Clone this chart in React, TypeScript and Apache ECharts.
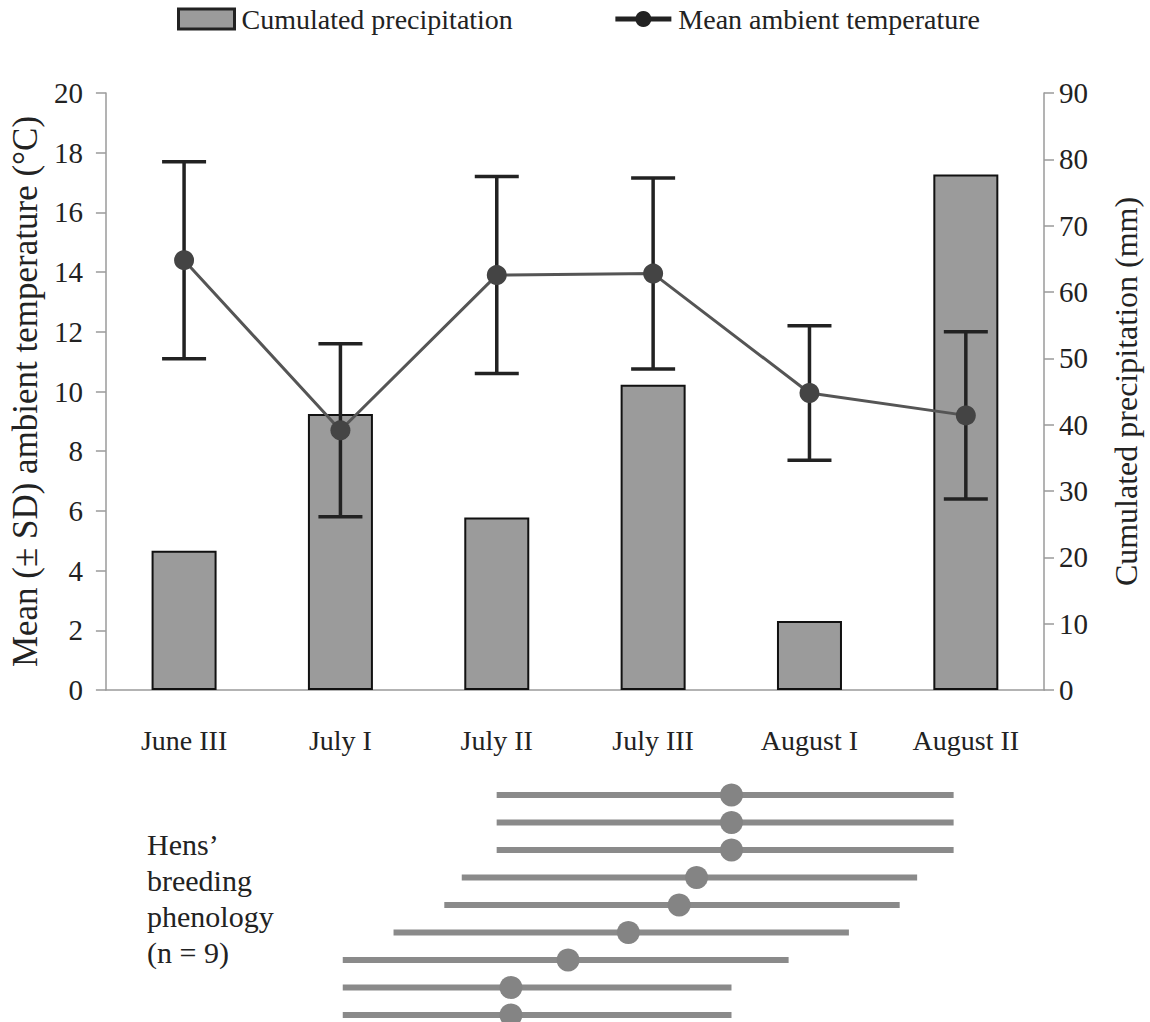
import React, { useEffect, useRef } from "react";
import * as echarts from "echarts";

// Ten-day periods on the category axis
const categories = ["June III", "July I", "July II", "July III", "August I", "August II"];
// Cumulated precipitation per period (mm, right axis)
const precipitation = [21, 41.6, 26, 46, 10.4, 77.7];
// Mean ambient temperature and its SD per period (°C, left axis)
const tempMean = [14.4, 8.7, 13.9, 13.95, 9.95, 9.2];
const tempSD = [3.3, 2.9, 3.3, 3.2, 2.25, 2.8];

// Hens' breeding phenology, in days counted from the start of June III
const phenoStart = [25.0, 25.0, 25.0, 22.8, 21.7, 18.5, 15.3, 15.3, 15.3];
const phenoMarker = [39.8, 39.8, 39.8, 37.6, 36.5, 33.3, 29.5, 25.9, 25.9];
const phenoEnd = [53.8, 53.8, 53.8, 51.5, 50.4, 47.2, 43.4, 39.8, 39.8];

const tempTicks = { min: 0, max: 20, interval: 2 };
const precTicks = { min: 0, max: 90, interval: 10 };

const FONT = "'Liberation Serif', 'Times New Roman', serif";
const TEXT = "#222";
const AXIS = "#9a9a9a";

export default function App() {
  const ref = useRef<HTMLDivElement>(null);

  useEffect(() => {
    if (!ref.current) return;
    const chart = echarts.init(ref.current, undefined, { renderer: "svg" });

    const errorData = tempMean.map((m, i) => [i, m - tempSD[i], m + tempSD[i]]);
    const phenoRows = phenoStart.map((s, i) => [s, phenoEnd[i], i]);
    const phenoDots = phenoMarker.map((m, i) => [m, i]);

    const option: any = {
      animation: false,
      backgroundColor: "#fff",
      textStyle: { fontFamily: FONT, color: TEXT },
      legend: {
        left: 172,
        top: 0,
        itemWidth: 56,
        itemHeight: 20,
        itemGap: 100,
        textStyle: { fontFamily: FONT, fontSize: 28, color: TEXT, padding: [0, 0, 0, 2] },
        data: [
          {
            name: "Cumulated precipitation",
            icon: "rect",
            itemStyle: { color: "#9b9b9b", borderColor: "#222", borderWidth: 3 },
          },
          {
            name: "Mean ambient temperature",
            itemStyle: { color: "#222" },
            lineStyle: { color: "#222", width: 5 },
          },
        ],
      },
      grid: [
        { left: 100, right: 98, top: 93, bottom: 332 },
        { left: 100, right: 98, top: 795, height: 220 },
      ],
      xAxis: [
        {
          type: "category",
          gridIndex: 0,
          data: categories,
          axisLine: { lineStyle: { color: AXIS, width: 1.5 } },
          axisTick: { length: 12, lineStyle: { color: AXIS, width: 1.5 } },
          axisLabel: { fontFamily: FONT, fontSize: 28, color: TEXT, margin: 36 },
        },
        { type: "value", gridIndex: 1, min: 0, max: 60, show: false },
      ],
      yAxis: [
        {
          type: "value",
          gridIndex: 0,
          position: "left",
          ...tempTicks,
          name: "Mean (± SD) ambient temperature (°C)",
          nameLocation: "middle",
          nameRotate: 90,
          nameGap: 56,
          nameTextStyle: { fontFamily: FONT, fontSize: 35, color: TEXT },
          splitLine: { show: false },
          axisLine: { show: true, lineStyle: { color: AXIS, width: 1.5 } },
          axisTick: { show: true, length: 10, lineStyle: { color: AXIS, width: 1.5 } },
          axisLabel: { fontFamily: FONT, fontSize: 29, color: TEXT, margin: 23 },
        },
        {
          type: "value",
          gridIndex: 0,
          position: "right",
          ...precTicks,
          name: "Cumulated precipitation (mm)",
          nameLocation: "middle",
          nameRotate: 90,
          nameGap: 66,
          nameTextStyle: { fontFamily: FONT, fontSize: 32, color: TEXT },
          splitLine: { show: false },
          axisLine: { show: true, lineStyle: { color: AXIS, width: 1.5 } },
          axisTick: { show: true, length: 10, lineStyle: { color: AXIS, width: 1.5 } },
          axisLabel: { fontFamily: FONT, fontSize: 29, color: TEXT, margin: 15 },
        },
        { type: "value", gridIndex: 1, min: 0, max: 8, inverse: true, show: false },
      ],
      series: [
        {
          name: "Cumulated precipitation",
          type: "bar",
          xAxisIndex: 0,
          yAxisIndex: 1,
          data: precipitation,
          barWidth: 65,
          itemStyle: { color: "#9b9b9b", borderColor: "#111", borderWidth: 2 },
          z: 1,
        },
        {
          name: "temperature SD",
          type: "custom",
          xAxisIndex: 0,
          yAxisIndex: 0,
          data: errorData,
          z: 3,
          renderItem: (_params: any, api: any) => {
            const x = api.value(0);
            const lo = api.coord([x, api.value(1)]);
            const hi = api.coord([x, api.value(2)]);
            const half = 22;
            const style = { stroke: "#222", lineWidth: 3.5 };
            return {
              type: "group",
              children: [
                { type: "line", shape: { x1: lo[0], y1: lo[1], x2: hi[0], y2: hi[1] }, style },
                { type: "line", shape: { x1: hi[0] - half, y1: hi[1], x2: hi[0] + half, y2: hi[1] }, style },
                { type: "line", shape: { x1: lo[0] - half, y1: lo[1], x2: lo[0] + half, y2: lo[1] }, style },
              ],
            };
          },
        },
        {
          name: "Mean ambient temperature",
          type: "line",
          xAxisIndex: 0,
          yAxisIndex: 0,
          data: tempMean,
          symbol: "circle",
          symbolSize: 20,
          lineStyle: { color: "#555", width: 3 },
          itemStyle: { color: "#444" },
          z: 4,
        },
        {
          name: "phenology span",
          type: "custom",
          xAxisIndex: 1,
          yAxisIndex: 2,
          data: phenoRows,
          renderItem: (_params: any, api: any) => {
            const a = api.coord([api.value(0), api.value(2)]);
            const b = api.coord([api.value(1), api.value(2)]);
            return {
              type: "line",
              shape: { x1: a[0], y1: a[1], x2: b[0], y2: b[1] },
              style: { stroke: "#8a8a8a", lineWidth: 6 },
            };
          },
          z: 2,
        },
        {
          name: "phenology marker",
          type: "scatter",
          xAxisIndex: 1,
          yAxisIndex: 2,
          data: phenoDots,
          symbolSize: 23,
          itemStyle: { color: "#848484", opacity: 1 },
          z: 3,
        },
      ],
      graphic: [
        {
          type: "text",
          left: 147,
          top: 826,
          style: {
            text: "Hens’\nbreeding\nphenology\n(n = 9)",
            font: `30px ${FONT}`,
            fill: TEXT,
            lineHeight: 36,
          },
        },
      ],
    };

    chart.setOption(option);
    return () => chart.dispose();
  }, []);

  return (
    <div
      ref={ref}
      style={{ position: "absolute", left: 0, top: 0, width: 1150, height: 1022 }}
    />
  );
}
